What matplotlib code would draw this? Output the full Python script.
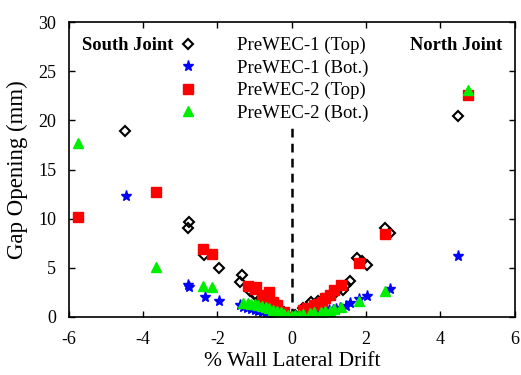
import matplotlib
matplotlib.use("Agg")
import matplotlib.pyplot as plt

plt.rcParams['font.family'] = ['Liberation Serif', 'DejaVu Serif']
plt.rcParams['axes.unicode_minus'] = False

# PreWEC-1 (Top)
w1t_x = [-4.48, -2.76, -2.78, -2.35, -1.95, -1.35, -1.39, -1.13, -1.0, -0.95, -0.8, -0.7, -0.41, -0.2, 0.1, 0.3, 0.53, 0.7, 0.84, 1.06, 1.2, 1.37, 1.45, 1.58, 1.75, 1.9, 2.02, 2.52, 2.63, 4.46]
w1t_y = [18.9, 9.7, 9.0, 6.3, 4.95, 4.3, 3.5, 2.6, 2.3, 2.1, 1.9, 1.6, 1.3, 0.5, 0.2, 0.9, 1.5, 1.6, 1.8, 2.24, 2.5, 2.75, 3.2, 3.7, 5.97, 5.7, 5.3, 9.0, 8.5, 20.4]
# PreWEC-1 (Bot.)
w1b_x = [-4.46, -2.78, -2.76, -2.33, -1.95, -1.39, -1.3, -1.2, -1.1, -1.0, -0.9, -0.8, -0.7, -0.6, -0.5, -0.4, -0.3, -0.2, -0.1, 0.0, 0.1, 0.2, 0.3, 0.4, 0.5, 0.6, 0.75, 0.9, 1.0, 1.1, 1.2, 1.29, 1.45, 1.58, 1.8, 2.02, 2.65, 4.46]
w1b_y = [12.3, 3.26, 3.0, 2.07, 1.66, 1.22, 1.05, 0.9, 0.8, 0.7, 0.6, 0.5, 0.42, 0.35, 0.28, 0.2, 0.15, 0.1, 0.05, 0.0, 0.05, 0.1, 0.15, 0.2, 0.25, 0.3, 0.45, 0.6, 0.68, 0.75, 0.82, 0.88, 1.1, 1.39, 1.8, 2.17, 2.85, 6.2]
# PreWEC-2 (Top)
w2t_x = [-5.76, -3.66, -2.40, -2.15, -1.17, -1.0, -0.95, -0.81, -0.7, -0.61, -0.5, -0.4, -0.2, 0.0, 0.3, 0.4, 0.6, 0.7, 0.82, 0.9, 1.02, 1.15, 1.33, 1.8, 2.5, 4.75]
w2t_y = [10.2, 12.75, 6.9, 6.4, 3.1, 2.8, 3.0, 2.07, 2.2, 2.5, 1.5, 1.2, 0.5, 0.0, 0.7, 0.9, 1.2, 1.3, 1.56, 1.9, 2.24, 2.7, 3.26, 5.5, 8.45, 22.6]
# PreWEC-2 (Bot.)
w2b_x = [-5.76, -3.66, -2.40, -2.15, -1.3, -1.17, -1.1, -1.0, -0.9, -0.8, -0.7, -0.6, -0.5, -0.4, -0.3, -0.2, -0.1, 0.0, 0.1, 0.2, 0.3, 0.5, 0.6, 0.8, 0.9, 1.02, 1.15, 1.33, 1.82, 2.5, 4.75]
w2b_y = [17.7, 5.05, 3.1, 3.0, 1.45, 1.4, 1.35, 1.3, 1.2, 1.1, 1.0, 0.9, 0.75, 0.6, 0.45, 0.3, 0.2, 0.1, 0.15, 0.2, 0.3, 0.4, 0.45, 0.5, 0.55, 0.64, 0.8, 1.05, 1.66, 2.6, 23.1]

labels = ['PreWEC-1 (Top)', 'PreWEC-1 (Bot.)', 'PreWEC-2 (Top)', 'PreWEC-2 (Bot.)']
xticks = [-6, -4, -2, 0, 2, 4, 6]
yticks = [0, 5, 10, 15, 20, 25, 30]
center_line_x = [0, 0]
center_line_y = [0, 19.5]

fig = plt.figure(figsize=(5.21, 3.75), dpi=100)
ax = fig.add_axes([0.132, 0.155, 0.856, 0.786])

ax.plot(center_line_x, center_line_y, color='black', ls='--', lw=1.8, dashes=(3.5, 2.5), zorder=1)
ax.plot(w1t_x, w1t_y, 'D', ms=5.5, mfc='none', mec='black', mew=1.5, label=labels[0], ls='none')
ax.plot(w1b_x, w1b_y, '*', ms=8, color='blue', mec='blue', label=labels[1], ls='none')
ax.plot(w2t_x, w2t_y, 's', ms=6.5, color='red', mec='red', label=labels[2], ls='none')
ax.plot(w2b_x, w2b_y, '^', ms=7.5, color='#00ee00', mec='#00ee00', label=labels[3], ls='none')

ax.set_xlim(-6, 6)
ax.set_ylim(0, 30)
ax.set_xticks(xticks)
ax.set_yticks(yticks)
ax.tick_params(direction='in', top=True, right=True, labelsize=13, length=4, width=1)
ax.tick_params(axis='x', pad=10)
ax.tick_params(axis='y', pad=9)
for s in ax.spines.values():
    s.set_linewidth(1.2)
ax.set_xlabel('% Wall Lateral Drift', fontsize=15.5, labelpad=3)
ax.set_ylabel('Gap Opening (mm)', fontsize=16.5, labelpad=7)

ax.text(0.029, 0.919, 'South Joint', transform=ax.transAxes, fontsize=13.3, fontweight='bold', va='center', ha='left')
ax.text(0.765, 0.922, 'North Joint', transform=ax.transAxes, fontsize=13.3, fontweight='bold', va='center', ha='left')

ax.legend(loc='upper left', bbox_to_anchor=(0.246, 0.949), frameon=False, fontsize=13.5,
          handlelength=1.0, handletextpad=2.13, labelspacing=0.27, borderpad=0, borderaxespad=0,
          numpoints=1)

fig.savefig('out.png', dpi=100)
